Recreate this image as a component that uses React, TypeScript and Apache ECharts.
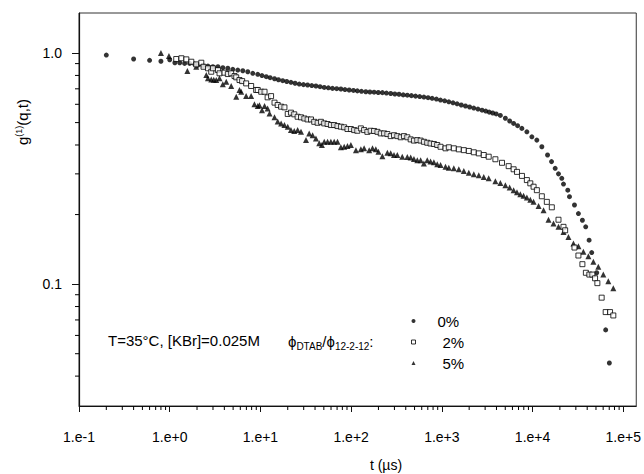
import React, { useEffect, useRef } from 'react';
import * as echarts from 'echarts';

// 0 % series (filled circles): delay time t (µs) and g(1)(q,t)
const t0 = [0.2,0.4,0.6,0.8,1.0,1.14,1.29,1.46,1.66,1.88,2.05,2.32,2.64,2.99,3.40,3.85,4.37,4.96,5.63,6.39,7.25,8.23,9.34,10.4,11.6,12.8,14.3,15.8,17.6,19.5,21.7,24.1,26.8,29.8,33.1,36.8,40.9,45.4,50.5,56.1,62.3,69.3,77.1,85.5,95.1,106,117,130,145,161,179,199,221,245,273,303,337,375,416,462,513,570,634,705,782,871,966,1074,1193,1327,1473,1637,1821,2023,2247,2500,2773,3048,3326,3633,3972,4415,5012,5590,6180,6840,7620,8650,9820,11140,12650,14620,16180,17750,19310,20990,21920,24440,25520,28970,32010,35420,38520,42000,44860,50900,63970,70200];
const g0 = [0.980,0.942,0.930,0.921,0.935,0.908,0.908,0.902,0.902,0.896,0.887,0.881,0.878,0.872,0.872,0.864,0.859,0.850,0.844,0.838,0.830,0.817,0.809,0.799,0.790,0.782,0.774,0.766,0.759,0.753,0.747,0.740,0.734,0.730,0.727,0.723,0.720,0.715,0.710,0.707,0.703,0.701,0.699,0.695,0.692,0.689,0.686,0.683,0.680,0.678,0.677,0.675,0.674,0.671,0.668,0.665,0.663,0.659,0.657,0.654,0.651,0.648,0.645,0.641,0.637,0.632,0.626,0.621,0.615,0.609,0.603,0.596,0.590,0.584,0.578,0.572,0.566,0.561,0.555,0.550,0.545,0.537,0.522,0.508,0.496,0.485,0.472,0.456,0.434,0.420,0.393,0.362,0.339,0.317,0.300,0.287,0.271,0.255,0.239,0.220,0.202,0.189,0.177,0.155,0.137,0.112,0.0634,0.0456];

// 2 % series (open squares)
const t1 = [1.18,1.345,1.525,1.73,1.96,2.23,2.36,2.64,2.87,2.99,3.40,3.54,4.02,4.37,4.76,5.18,5.41,5.88,6.29,6.96,7.90,8.97,9.34,10.2,11.1,12.0,13.1,14.3,15.5,16.9,18.4,20.0,21.7,23.6,25.7,28.0,30.5,33.1,36.1,39.2,42.7,46.4,50.5,55.0,59.8,65.0,70.7,77.1,83.8,91.1,99.3,108,117,128,139,151,164,179,195,212,231,251,273,297,323,352,382,416,453,492,536,583,634,690,751,817,889,967,1097,1193,1355,1538,1746,1982,2249,2553,2897,3283,3890,4603,5450,6180,6730,7640,8650,9440,10260,11150,12650,14360,16300,19310,21920,22860,28970,32010,35420,38700,42250,45600,48860,51790,57770,63970,71440,77660];
const g1 = [0.942,0.949,0.939,0.917,0.893,0.908,0.872,0.859,0.830,0.859,0.844,0.817,0.822,0.811,0.817,0.795,0.785,0.764,0.756,0.739,0.720,0.692,0.692,0.680,0.680,0.643,0.651,0.610,0.596,0.586,0.582,0.545,0.552,0.543,0.530,0.527,0.521,0.516,0.516,0.504,0.499,0.504,0.496,0.493,0.488,0.488,0.483,0.480,0.477,0.469,0.469,0.464,0.461,0.472,0.464,0.456,0.461,0.460,0.456,0.449,0.449,0.446,0.437,0.441,0.437,0.432,0.437,0.432,0.423,0.418,0.420,0.418,0.413,0.409,0.406,0.404,0.400,0.393,0.387,0.391,0.387,0.383,0.380,0.377,0.372,0.368,0.362,0.356,0.347,0.335,0.324,0.314,0.306,0.294,0.282,0.273,0.264,0.255,0.240,0.227,0.215,0.190,0.177,0.171,0.144,0.133,0.122,0.112,0.110,0.110,0.106,0.101,0.0874,0.0757,0.0757,0.0732];

// 5 % series (filled triangles)
const t2 = [0.8,0.98,1.565,1.96,2.53,2.64,2.87,3.06,3.26,3.54,3.85,4.20,4.76,5.41,5.88,6.14,6.96,7.90,8.59,9.34,9.75,10.4,11.1,12.0,12.6,14.3,15.5,16.9,18.4,20.0,21.7,23.6,25.7,28.0,31.8,34.5,37.6,40.9,44.5,47.6,50.5,55.0,59.8,65.0,70.7,77.1,83.8,91.1,99.3,113,128,139,158,172,187,200,221,251,273,297,323,366,416,453,492,536,583,634,690,751,817,889,967,1097,1193,1355,1538,1746,1982,2249,2553,2897,3283,3890,4415,5012,5590,6180,6730,7330,7960,8650,9440,10260,11640,13210,14990,17010,19310,21920,24870,28230,32010,36310,41210,46770,53090,60260,68390,77620];
const g2 = [1.0,0.971,0.836,0.872,0.803,0.777,0.768,0.767,0.764,0.777,0.732,0.751,0.720,0.647,0.692,0.680,0.651,0.651,0.600,0.590,0.595,0.566,0.590,0.576,0.548,0.527,0.505,0.496,0.488,0.480,0.464,0.460,0.464,0.456,0.420,0.449,0.441,0.427,0.407,0.400,0.413,0.413,0.413,0.413,0.413,0.391,0.393,0.396,0.400,0.380,0.383,0.387,0.380,0.387,0.383,0.374,0.358,0.370,0.368,0.362,0.362,0.356,0.355,0.353,0.348,0.344,0.344,0.333,0.344,0.339,0.337,0.330,0.328,0.322,0.319,0.317,0.314,0.309,0.303,0.299,0.296,0.291,0.287,0.279,0.274,0.268,0.262,0.255,0.250,0.245,0.241,0.237,0.232,0.227,0.218,0.209,0.190,0.183,0.177,0.168,0.160,0.150,0.146,0.138,0.132,0.125,0.119,0.110,0.103,0.0960];

const seriesNames = ['0%', '2%', '5%'];

// Axis ticks (real values; the axes are drawn in log10 space)
const xMajorTicks = [0.1, 1, 10, 100, 1000, 10000, 100000];
const xTickLabels = ['1.e-1', '1.e+0', '1.e+1', '1.e+2', '1.e+3', '1.e+4', '1.e+5'];
const xMinorTicks = [0.2,0.3,0.4,0.5,0.6,0.7,0.8,0.9,2,3,4,5,6,7,8,9,20,30,40,50,60,70,80,90,200,300,400,500,600,700,800,900,2000,3000,4000,5000,6000,7000,8000,9000,20000,30000,40000,50000,60000,70000,80000,90000];
const yMajorTicks = [0.1, 1];
const yTickLabels = ['0.1', '1.0'];
const yMinorTicks = [0.04,0.05,0.06,0.07,0.08,0.09,0.2,0.3,0.4,0.5,0.6,0.7,0.8,0.9];
const xRange = [0.1, 139000];
const yRange = [0.0297, 1.49];

const FONT = 'Liberation Sans, Arial, Helvetica, sans-serif';
const INK = '#111';
const lg = (v: number) => Math.log10(v);

function labelFor(logv: number, ticks: number[], labels: string[]) {
  for (let i = 0; i < ticks.length; i++) {
    if (Math.abs(logv - lg(ticks[i])) < 1e-6) return labels[i];
  }
  return '';
}

export default function App() {
  const ref = useRef<HTMLDivElement>(null);
  useEffect(() => {
    document.body.style.margin = '0';
    if (!ref.current) return;
    const chart = echarts.init(ref.current, undefined, { renderer: 'svg' });
    const xMin = lg(xRange[0]), xMax = lg(xRange[1]), yMin = lg(yRange[0]), yMax = lg(yRange[1]);
    const mk = (t: number[], g: number[]) => t.map((v, i) => [lg(v), lg(g[i])]);
    chart.setOption({
      animation: false,
      backgroundColor: '#fff',
      grid: { left: 79, top: 13, right: 6, bottom: 68, show: true, borderColor: '#333', borderWidth: 1 },
      xAxis: {
        type: 'value', min: xMin, max: xMax, position: 'bottom',
        axisLine: { show: true, onZero: false, lineStyle: { color: INK, width: 1 } },
        axisTick: { show: true, inside: false, length: 6, customValues: xMajorTicks.map(lg), lineStyle: { color: INK } },
        axisLabel: {
          show: true, customValues: xMajorTicks.map(lg), margin: 24, color: '#000', fontSize: 14, fontFamily: FONT,
          formatter: (v: number) => labelFor(v, xMajorTicks, xTickLabels),
        },
        splitLine: { show: false }, minorTick: { show: false },
      },
      yAxis: {
        type: 'value', min: yMin, max: yMax, position: 'left',
        axisLine: { show: true, onZero: false, lineStyle: { color: INK, width: 1.2 } },
        axisTick: { show: true, inside: false, length: 7, customValues: yMajorTicks.map(lg), lineStyle: { color: INK } },
        axisLabel: {
          show: true, customValues: yMajorTicks.map(lg), margin: 17, color: '#000', fontSize: 14, fontFamily: FONT,
          formatter: (v: number) => labelFor(v, yMajorTicks, yTickLabels),
        },
        splitLine: { show: false },
      },
      legend: {
        orient: 'vertical', left: 406, top: 308, itemWidth: 4, itemHeight: 4, itemGap: 5,
        selectedMode: false,
        textStyle: { fontSize: 15, lineHeight: 16, color: '#000', fontFamily: FONT },
        data: [
          { name: seriesNames[0], textStyle: { padding: [0, 0, 0, 17] } },
          { name: seriesNames[1], itemStyle: { color: '#fff', borderColor: '#000', borderWidth: 1 }, textStyle: { padding: [0, 0, 0, 22] } },
          { name: seriesNames[2], textStyle: { padding: [0, 0, 0, 22] } },
        ],
      },
      series: [
        {
          name: seriesNames[0], type: 'scatter',
          symbol: 'circle', symbolSize: 5, itemStyle: { color: '#000' }, data: mk(t0, g0),
        },
        {
          name: seriesNames[1], type: 'scatter',
          symbol: 'rect', symbolSize: 5, itemStyle: { color: '#fff', borderColor: '#000', borderWidth: 1 }, data: mk(t1, g1), z: 3,
        },
        {
          name: seriesNames[2], type: 'scatter',
          symbol: 'triangle', symbolSize: 6, itemStyle: { color: '#000' }, data: mk(t2, g2),
        },
        {
          name: 'xMinorTicks', type: 'custom', silent: true, clip: false, z: 10,
          data: xMinorTicks.map((v) => [lg(v), yMin]),
          renderItem: (_p: any, api: any) => {
            const c = api.coord([api.value(0), api.value(1)]);
            return { type: 'line', shape: { x1: c[0], y1: c[1], x2: c[0], y2: c[1] + 4 }, style: { stroke: '#000', lineWidth: 1 } };
          },
        },
        {
          name: 'yMinorTicks', type: 'custom', silent: true, clip: false, z: 10,
          data: yMinorTicks.map((v) => [xMin, lg(v)]),
          renderItem: (_p: any, api: any) => {
            const c = api.coord([api.value(0), api.value(1)]);
            return { type: 'line', shape: { x1: c[0] - 4, y1: c[1], x2: c[0], y2: c[1] }, style: { stroke: '#000', lineWidth: 1 } };
          },
        },
      ],
      graphic: [
        {
          type: 'text', x: 22, y: 122, rotation: Math.PI / 2,
          style: {
            text: 'g{sup|(1)}(q,t)', align: 'center', verticalAlign: 'middle',
            fontSize: 15, fontFamily: FONT, fill: '#000',
            rich: { sup: { fontSize: 9, verticalAlign: 'top', lineHeight: 9, fontFamily: FONT, fill: '#000' } },
          },
        },
        {
          type: 'text', x: 386, y: 465,
          style: { text: 't (\u00b5s)', align: 'center', verticalAlign: 'middle', fontSize: 14, fontFamily: FONT, fill: '#000' },
        },
        {
          type: 'text', x: 108, y: 340,
          style: { text: 'T=35\u00b0C, [KBr]=0.025M', align: 'left', verticalAlign: 'middle', fontSize: 15, fontFamily: FONT, fill: '#000' },
        },
        {
          type: 'text', x: 288, y: 341,
          style: {
            text: '{m|\u03d5}{s|DTAB}{m|/\u03d5}{s|12-2-12}{m|:}', align: 'left', verticalAlign: 'middle',
            rich: {
              m: { fontSize: 15, lineHeight: 20, fontFamily: FONT, fill: '#000' },
              s: { fontSize: 10, lineHeight: 10, verticalAlign: 'bottom', fontFamily: FONT, fill: '#000' },
            },
          },
        },
      ],
    });
    return () => chart.dispose();
  }, []);
  return <div ref={ref} style={{ width: 644, height: 474 }} />;
}
